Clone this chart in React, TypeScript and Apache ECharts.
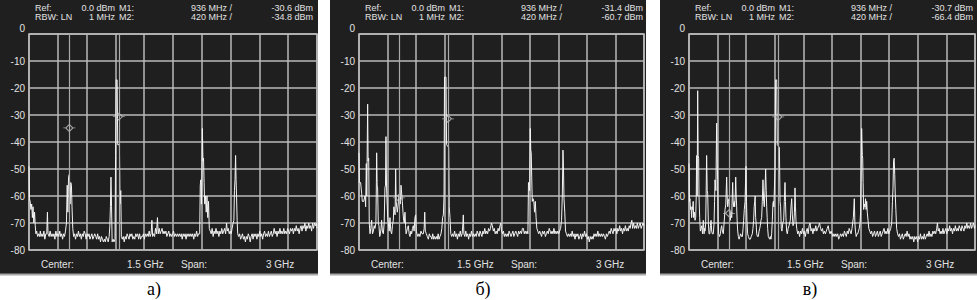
import { useEffect, useRef } from "react";
import * as echarts from "echarts";

// ---------- data ----------
const M1_FREQ = 936; // MHz
const M2_FREQ = 420; // MHz
const m1Levels = [-30.6, -31.4, -30.7]; // dBm
const m2Levels = [-34.8, -60.7, -66.4]; // dBm
const captions = ["а)", "б)", "в)"];
const REF_TEXT = "0.0 dBm";
const RBW_TEXT = "1 MHz";
const CENTER_TEXT = "1.5 GHz";
const SPAN_TEXT = "3 GHz";
const F_MIN = 0;
const F_MAX = 3000;
const F_STEP = 300;
const DB_MIN = -80;
const DB_MAX = 0;
const DB_STEP = 10;

const traceA: [number, number][] = [
[0,-49],[5,-61],[12,-62],[20,-65],[28,-63],[35,-68],[42,-64],[50,-70],[58,-66],[65,-71],[72,-74],[80,-73],[90,-75],[100,-74],[110,-75],[118,-73],[125,-75],[135,-74],[145,-75],[155,-73],[165,-76],[175,-74],[185,-74],[192,-66],[198,-74],[210,-75],[220,-73],[230,-75],[240,-74],[250,-75],[260,-74],[270,-76],[280,-73],[290,-75],[300,-74],[310,-75],[320,-73],[330,-75],[340,-74],[350,-76],[360,-74],[370,-75],[380,-73],[390,-70],[398,-56],[405,-66],[412,-53],[420,-52],[428,-63],[435,-55],[442,-56],[448,-64],[456,-72],[465,-75],[475,-74],[485,-76],[495,-74],[505,-75],[515,-73],[525,-75],[535,-74],[545,-76],[555,-74],[565,-75],[575,-73],[585,-74],[595,-76],[605,-74],[615,-75],[625,-74],[635,-76],[645,-75],[655,-74],[665,-76],[675,-75],[685,-74],[695,-75],[705,-76],[715,-74],[725,-76],[735,-75],[745,-77],[755,-75],[765,-76],[775,-77],[785,-76],[795,-77],[805,-75],[815,-76],[825,-77],[835,-75],[842,-71],[848,-64],[854,-53],[860,-64],[866,-77],[876,-76],[886,-77],[896,-76],[902,-45],[908,-17],[918,-17],[924,-41],[942,-41],[948,-63],[956,-58],[962,-75],[972,-76],[982,-75],[992,-77],[1002,-75],[1012,-76],[1022,-74],[1032,-75],[1042,-76],[1052,-74],[1062,-75],[1072,-74],[1082,-76],[1092,-75],[1102,-76],[1112,-74],[1122,-75],[1132,-74],[1142,-76],[1152,-74],[1162,-76],[1172,-75],[1182,-75],[1192,-74],[1202,-76],[1212,-74],[1222,-75],[1232,-74],[1242,-75],[1252,-73],[1262,-75],[1272,-74],[1280,-69],[1288,-75],[1298,-74],[1308,-75],[1318,-72],[1328,-74],[1338,-68],[1346,-74],[1356,-72],[1366,-74],[1376,-73],[1386,-72],[1396,-74],[1406,-73],[1416,-74],[1426,-73],[1436,-75],[1446,-74],[1456,-73],[1466,-75],[1476,-74],[1486,-75],[1496,-74],[1506,-73],[1516,-75],[1526,-74],[1536,-75],[1546,-74],[1556,-75],[1566,-74],[1576,-75],[1586,-74],[1596,-76],[1606,-74],[1616,-75],[1626,-74],[1636,-76],[1646,-74],[1656,-75],[1666,-74],[1676,-75],[1686,-74],[1696,-75],[1706,-74],[1716,-76],[1726,-74],[1736,-75],[1746,-73],[1756,-75],[1766,-74],[1778,-74],[1784,-56],[1790,-54],[1796,-63],[1800,-55],[1806,-35],[1812,-47],[1818,-46],[1824,-55],[1830,-63],[1838,-60],[1846,-66],[1854,-60],[1862,-68],[1870,-62],[1878,-72],[1888,-73],[1898,-74],[1908,-72],[1918,-75],[1928,-73],[1938,-74],[1948,-72],[1958,-74],[1968,-73],[1978,-75],[1988,-73],[1998,-74],[2008,-72],[2018,-74],[2028,-73],[2038,-72],[2048,-74],[2058,-70],[2066,-73],[2076,-72],[2086,-74],[2096,-73],[2106,-74],[2116,-72],[2126,-70],[2134,-69],[2140,-58],[2146,-54],[2152,-45],[2157,-54],[2162,-60],[2168,-69],[2174,-74],[2184,-75],[2194,-74],[2204,-76],[2214,-75],[2224,-74],[2234,-76],[2244,-75],[2254,-77],[2264,-75],[2274,-76],[2284,-74],[2294,-75],[2304,-77],[2314,-75],[2324,-74],[2334,-76],[2344,-74],[2354,-75],[2364,-74],[2374,-76],[2384,-74],[2394,-75],[2404,-73],[2414,-75],[2424,-74],[2434,-76],[2444,-74],[2454,-73],[2464,-75],[2474,-74],[2484,-75],[2494,-73],[2504,-75],[2514,-74],[2524,-73],[2534,-75],[2544,-74],[2554,-72],[2564,-74],[2574,-73],[2584,-75],[2594,-73],[2604,-74],[2614,-72],[2624,-74],[2634,-73],[2644,-74],[2654,-72],[2664,-74],[2674,-73],[2684,-74],[2694,-72],[2704,-73],[2714,-74],[2724,-72],[2734,-73],[2744,-72],[2754,-74],[2764,-72],[2774,-73],[2784,-71],[2794,-73],[2804,-72],[2814,-74],[2824,-72],[2834,-71],[2844,-73],[2854,-71],[2864,-72],[2874,-70],[2884,-73],[2894,-71],[2904,-72],[2914,-70],[2924,-72],[2934,-71],[2944,-73],[2954,-70],[2964,-72],[2974,-70],[2984,-71],[2994,-70],[3000,-72]
];

const traceB: [number, number][] = [
[0,-44],[4,-55],[17,-55],[28,-59],[35,-62],[49,-62],[63,-60],[70,-64],[77,-48],[82,-60],[91,-26],[96,-47],[102,-46],[108,-70],[116,-74],[124,-72],[133,-69],[142,-74],[151,-73],[160,-71],[168,-72],[178,-70],[183,-55],[186,-44],[191,-56],[196,-57],[203,-70],[210,-71],[218,-75],[225,-74],[232,-72],[238,-69],[246,-73],[256,-74],[265,-70],[273,-57],[279,-56],[284,-38],[290,-57],[295,-57],[302,-68],[309,-70],[318,-73],[326,-68],[335,-73],[344,-74],[352,-71],[361,-69],[367,-64],[372,-64],[380,-67],[386,-50],[391,-62],[396,-62],[403,-66],[410,-64],[414,-64],[421,-60],[428,-59],[435,-63],[442,-56],[449,-56],[456,-62],[463,-66],[470,-69],[477,-70],[484,-66],[490,-71],[496,-74],[501,-74],[510,-72],[519,-71],[528,-74],[537,-75],[546,-73],[554,-74],[563,-72],[572,-71],[580,-73],[589,-68],[596,-67],[603,-73],[610,-74],[620,-75],[631,-74],[641,-75],[652,-73],[664,-74],[677,-74],[686,-72],[692,-66],[698,-73],[709,-74],[719,-75],[730,-76],[740,-74],[750,-75],[758,-75],[767,-76],[776,-74],[786,-76],[795,-75],[804,-76],[814,-75],[824,-76],[833,-74],[842,-76],[852,-75],[863,-74],[872,-72],[880,-68],[888,-67],[895,-60],[900,-16],[916,-16],[922,-41],[944,-42],[950,-64],[958,-68],[966,-74],[976,-75],[986,-74],[996,-75],[1006,-73],[1016,-75],[1026,-74],[1036,-76],[1046,-74],[1056,-75],[1066,-73],[1076,-75],[1086,-74],[1094,-70],[1098,-67],[1104,-74],[1114,-75],[1124,-73],[1134,-75],[1144,-74],[1154,-76],[1164,-74],[1174,-75],[1184,-73],[1194,-75],[1204,-74],[1214,-75],[1224,-74],[1234,-75],[1244,-73],[1254,-74],[1264,-75],[1274,-73],[1284,-74],[1294,-75],[1304,-73],[1314,-74],[1324,-72],[1334,-74],[1344,-73],[1354,-74],[1364,-72],[1374,-73],[1384,-72],[1394,-70],[1404,-71],[1414,-73],[1424,-72],[1434,-74],[1444,-73],[1454,-74],[1464,-72],[1474,-73],[1484,-71],[1492,-70],[1500,-73],[1510,-74],[1520,-73],[1530,-75],[1540,-74],[1550,-75],[1560,-74],[1570,-75],[1580,-73],[1590,-74],[1600,-75],[1610,-74],[1620,-73],[1630,-75],[1640,-74],[1650,-73],[1660,-74],[1670,-75],[1680,-73],[1690,-74],[1700,-73],[1710,-74],[1720,-72],[1730,-72],[1740,-74],[1750,-73],[1760,-74],[1770,-73],[1778,-74],[1784,-55],[1790,-56],[1796,-58],[1803,-35],[1808,-43],[1813,-44],[1818,-53],[1824,-62],[1832,-61],[1840,-62],[1848,-66],[1856,-62],[1864,-68],[1872,-72],[1882,-73],[1892,-74],[1902,-73],[1912,-74],[1922,-75],[1932,-73],[1942,-74],[1952,-73],[1962,-75],[1972,-74],[1982,-73],[1992,-74],[2002,-72],[2012,-73],[2022,-74],[2032,-73],[2042,-74],[2052,-72],[2062,-74],[2072,-73],[2082,-74],[2092,-73],[2102,-74],[2112,-73],[2122,-72],[2132,-69],[2140,-60],[2147,-43],[2152,-49],[2158,-61],[2166,-66],[2174,-73],[2184,-74],[2194,-75],[2204,-74],[2214,-75],[2224,-74],[2234,-75],[2244,-73],[2254,-75],[2264,-74],[2274,-76],[2284,-74],[2294,-75],[2304,-74],[2314,-76],[2324,-75],[2334,-74],[2344,-76],[2354,-74],[2364,-75],[2374,-73],[2384,-75],[2394,-74],[2404,-76],[2414,-75],[2424,-77],[2434,-75],[2444,-76],[2454,-75],[2464,-76],[2474,-74],[2484,-75],[2494,-74],[2504,-75],[2514,-73],[2524,-75],[2534,-74],[2544,-75],[2554,-74],[2564,-75],[2574,-74],[2584,-75],[2594,-76],[2604,-74],[2614,-75],[2624,-74],[2634,-73],[2644,-74],[2654,-72],[2664,-73],[2674,-74],[2684,-72],[2694,-73],[2704,-72],[2714,-74],[2724,-72],[2734,-73],[2744,-71],[2754,-73],[2764,-72],[2774,-74],[2784,-72],[2794,-73],[2804,-71],[2814,-73],[2824,-72],[2834,-73],[2844,-71],[2854,-72],[2864,-70],[2872,-69],[2880,-72],[2890,-70],[2900,-72],[2910,-71],[2920,-72],[2930,-70],[2940,-72],[2950,-71],[2960,-70],[2970,-72],[2980,-71],[2990,-70],[3000,-71]
];

const traceC: [number, number][] = [
[0,-48],[5,-62],[10,-61],[16,-65],[21,-64],[28,-68],[34,-64],[38,-65],[44,-62],[49,-68],[56,-66],[63,-69],[70,-68],[76,-60],[80,-45],[86,-60],[91,-21],[96,-45],[101,-46],[105,-60],[112,-68],[119,-73],[126,-73],[134,-71],[142,-74],[150,-69],[158,-74],[163,-72],[168,-73],[175,-70],[181,-56],[185,-45],[191,-58],[196,-59],[203,-70],[210,-74],[218,-74],[225,-71],[231,-69],[238,-73],[245,-74],[255,-74],[263,-70],[268,-62],[273,-54],[282,-58],[290,-33],[296,-48],[301,-54],[306,-70],[311,-74],[320,-75],[329,-74],[336,-72],[343,-71],[350,-73],[360,-74],[368,-70],[378,-65],[386,-63],[395,-53],[400,-60],[406,-64],[413,-62],[420,-61],[427,-66],[434,-69],[441,-66],[448,-68],[453,-61],[458,-55],[463,-62],[469,-64],[474,-62],[479,-64],[485,-60],[490,-53],[495,-60],[500,-64],[506,-70],[511,-73],[518,-75],[525,-76],[533,-75],[542,-74],[551,-75],[560,-75],[567,-72],[573,-69],[580,-65],[588,-62],[593,-55],[598,-49],[603,-62],[608,-69],[615,-74],[623,-75],[633,-76],[643,-76],[653,-75],[664,-74],[671,-72],[678,-69],[684,-64],[689,-62],[694,-60],[699,-68],[704,-70],[710,-74],[718,-75],[727,-75],[735,-73],[742,-72],[748,-71],[755,-69],[762,-68],[769,-62],[776,-54],[783,-62],[790,-64],[797,-58],[804,-50],[810,-58],[815,-64],[820,-68],[825,-72],[832,-75],[839,-75],[846,-76],[853,-75],[860,-76],[867,-74],[874,-69],[880,-63],[885,-62],[890,-64],[895,-64],[902,-50],[909,-17],[920,-17],[926,-41],[948,-42],[955,-62],[961,-64],[968,-72],[975,-73],[984,-70],[993,-69],[1000,-62],[1007,-55],[1012,-62],[1017,-68],[1024,-73],[1031,-74],[1040,-72],[1049,-71],[1056,-70],[1063,-69],[1070,-64],[1077,-61],[1084,-67],[1091,-71],[1100,-70],[1106,-66],[1112,-57],[1117,-64],[1122,-69],[1130,-72],[1140,-74],[1150,-73],[1160,-75],[1170,-73],[1180,-74],[1190,-72],[1200,-74],[1210,-73],[1220,-75],[1230,-73],[1240,-72],[1250,-74],[1260,-71],[1270,-70],[1280,-73],[1290,-72],[1300,-74],[1310,-72],[1320,-73],[1330,-71],[1340,-73],[1350,-72],[1360,-71],[1370,-70],[1380,-72],[1390,-73],[1400,-72],[1410,-74],[1420,-73],[1430,-74],[1440,-73],[1450,-72],[1460,-71],[1470,-73],[1480,-74],[1490,-73],[1500,-74],[1510,-75],[1520,-74],[1530,-75],[1540,-74],[1550,-75],[1560,-74],[1570,-76],[1580,-75],[1590,-74],[1600,-75],[1610,-74],[1620,-75],[1630,-73],[1640,-74],[1650,-75],[1660,-73],[1670,-74],[1680,-72],[1690,-73],[1700,-74],[1710,-72],[1717,-70],[1724,-68],[1734,-61],[1740,-70],[1746,-73],[1754,-75],[1762,-74],[1770,-74],[1778,-73],[1786,-72],[1794,-70],[1800,-66],[1804,-55],[1811,-35],[1818,-45],[1822,-46],[1826,-55],[1832,-65],[1840,-63],[1846,-64],[1852,-61],[1858,-65],[1864,-62],[1870,-66],[1878,-69],[1886,-72],[1896,-73],[1906,-74],[1916,-73],[1926,-75],[1936,-74],[1946,-73],[1956,-75],[1966,-74],[1976,-73],[1986,-75],[1996,-74],[2006,-73],[2016,-75],[2026,-74],[2036,-73],[2046,-72],[2056,-74],[2066,-73],[2076,-74],[2086,-72],[2096,-74],[2106,-73],[2116,-72],[2126,-70],[2134,-62],[2140,-57],[2146,-47],[2152,-46],[2158,-52],[2164,-60],[2170,-65],[2178,-72],[2188,-74],[2198,-75],[2208,-74],[2218,-76],[2228,-75],[2238,-74],[2248,-76],[2258,-75],[2268,-74],[2278,-75],[2288,-73],[2298,-75],[2308,-74],[2318,-76],[2328,-75],[2338,-76],[2348,-75],[2358,-77],[2368,-75],[2378,-76],[2388,-75],[2398,-77],[2408,-75],[2418,-76],[2428,-74],[2438,-76],[2448,-75],[2458,-76],[2468,-74],[2478,-76],[2488,-75],[2498,-74],[2508,-75],[2518,-73],[2528,-75],[2538,-74],[2548,-75],[2558,-73],[2568,-74],[2578,-73],[2588,-74],[2598,-72],[2606,-70],[2614,-73],[2624,-72],[2634,-74],[2644,-73],[2654,-74],[2664,-72],[2674,-74],[2684,-73],[2694,-72],[2704,-74],[2714,-72],[2724,-73],[2734,-71],[2744,-73],[2754,-72],[2764,-74],[2774,-72],[2784,-73],[2794,-71],[2804,-73],[2814,-72],[2824,-73],[2834,-71],[2844,-72],[2854,-73],[2864,-71],[2874,-72],[2884,-73],[2894,-71],[2904,-72],[2914,-70],[2924,-72],[2934,-71],[2944,-72],[2954,-70],[2964,-72],[2974,-71],[2984,-70],[2994,-72],[3000,-71]
];

const traces = [traceA, traceB, traceC];

// ---------- layout / style ----------
const panels = [
  { bgX: 0, bgW: 318, left: 29, width: 288, capX: 154 },
  { bgX: 330, bgW: 316, left: 359, width: 285, capX: 483 },
  { bgX: 660, bgW: 317, left: 689, width: 286, capX: 810 },
];
const PLOT_TOP = 34;
const PLOT_H = 216;
const BG = "#1f1f1f";
const GRID_C = "#bababa";
const TXT_C = "#e2e2e2";
const FONT = "'Liberation Sans', Arial, sans-serif";
const ROW1 = 7.6;
const ROW2 = 16.8;

function txt(x: number, y: number, text: string, align: string = "left", size: number = 9) {
  return {
    type: "text",
    silent: true,
    z: 10,
    style: {
      x,
      y,
      text,
      fill: TXT_C,
      fontSize: size,
      fontFamily: FONT,
      textAlign: align,
      textVerticalAlign: "middle",
    },
  };
}

export default function App() {
  const ref = useRef<HTMLDivElement>(null);
  useEffect(() => {
    document.body.style.margin = "0";
    const chart = echarts.init(ref.current!, null, { renderer: "svg" });
    const graphic: any[] = [];
    panels.forEach((p, i) => {
      graphic.push({
        type: "rect",
        silent: true,
        z: -10,
        shape: { x: p.bgX, y: 0, width: p.bgW, height: 275 },
        style: { fill: BG },
      });
      graphic.push({
        type: "line",
        silent: true,
        z: -9,
        shape: { x1: p.bgX, y1: 274.5, x2: p.bgX + p.bgW, y2: 274.5 },
        style: { stroke: "#a8a8a8", lineWidth: 2 },
      });
      const L = p.left;
      graphic.push(txt(L + 6, ROW1, "Ref:"));
      graphic.push(txt(L + 86, ROW1, REF_TEXT, "right"));
      graphic.push(txt(L + 90, ROW1, "M1:"));
      graphic.push(txt(L + 162, ROW1, `${M1_FREQ} MHz /`));
      graphic.push(txt(L + 284, ROW1, `${m1Levels[i].toFixed(1)} dBm`, "right"));
      graphic.push(txt(L + 6, ROW2, "RBW: LN"));
      graphic.push(txt(L + 86, ROW2, RBW_TEXT, "right"));
      graphic.push(txt(L + 90, ROW2, "M2:"));
      graphic.push(txt(L + 162, ROW2, `${M2_FREQ} MHz /`));
      graphic.push(txt(L + 284, ROW2, `${m2Levels[i].toFixed(1)} dBm`, "right"));
      graphic.push(txt(L + 12, 264.5, "Center:", "left", 10));
      graphic.push(txt(L + 98, 264.5, CENTER_TEXT, "left", 10));
      graphic.push(txt(L + 152, 264.5, "Span:", "left", 10));
      graphic.push(txt(L + 237, 264.5, SPAN_TEXT, "left", 10));
      graphic.push({
        type: "text",
        silent: true,
        style: {
          x: p.capX,
          y: 289,
          text: captions[i],
          fill: "#000",
          fontSize: 18,
          fontFamily: "'Liberation Serif', 'Times New Roman', serif",
          textAlign: "center",
          textVerticalAlign: "middle",
        },
      });
    });

    const splitLine = { show: true, lineStyle: { color: GRID_C, width: 1.5 } };
    const option: any = {
      animation: false,
      backgroundColor: "#ffffff",
      grid: panels.map((p) => ({
        left: p.left,
        top: PLOT_TOP,
        width: p.width,
        height: PLOT_H,
        show: true,
        borderColor: GRID_C,
        borderWidth: 1.5,
        backgroundColor: "transparent",
      })),
      xAxis: panels.map((_, i) => ({
        type: "value",
        gridIndex: i,
        min: F_MIN,
        max: F_MAX,
        interval: F_STEP,
        axisLine: { show: false },
        axisTick: { show: false },
        axisLabel: { show: false },
        splitLine,
      })),
      yAxis: panels.map((_, i) => ({
        type: "value",
        gridIndex: i,
        min: DB_MIN,
        max: DB_MAX,
        interval: DB_STEP,
        axisLine: { show: false },
        axisTick: { show: false },
        axisLabel: {
          color: TXT_C,
          fontSize: 10,
          fontFamily: FONT,
          margin: 4,
          formatter: (v: number) => (v === DB_MAX ? `{top|${v}}` : `${v}`),
          rich: { top: { color: TXT_C, fontSize: 10, fontFamily: FONT, padding: [0, 0, 12, 0] } },
        },
        splitLine,
      })),
      graphic,
      series: [
        ...traces.map((data, i) => ({
          type: "line",
          xAxisIndex: i,
          yAxisIndex: i,
          data,
          symbol: "none",
          showSymbol: false,
          silent: true,
          z: 3,
          lineStyle: { color: "#f4f4f4", width: 1 },
          markLine: {
            silent: true,
            symbol: "none",
            label: { show: false },
            lineStyle: { color: "#a9a9a9", width: 1.2, type: "solid" },
            data: [{ xAxis: M2_FREQ }, { xAxis: M1_FREQ }],
          },
        })),
        ...traces.map((_, i) => ({
          type: "scatter",
          xAxisIndex: i,
          yAxisIndex: i,
          silent: true,
          z: 4,
          symbol: "path://M0,5L3,5M7,5L10,5M5,2L8,5L5,8L2,5Z",
          symbolSize: [12, 7],
          itemStyle: { color: "transparent", borderColor: "#c4c4c4", borderWidth: 1 },
          data: [
            [M1_FREQ, m1Levels[i]],
            [M2_FREQ, m2Levels[i]],
          ],
        })),
      ],
    };
    chart.setOption(option);
    return () => chart.dispose();
  }, []);
  return (
    <div
      ref={ref}
      style={{ position: "fixed", left: 0, top: 0, width: 977, height: 300 }}
    />
  );
}
